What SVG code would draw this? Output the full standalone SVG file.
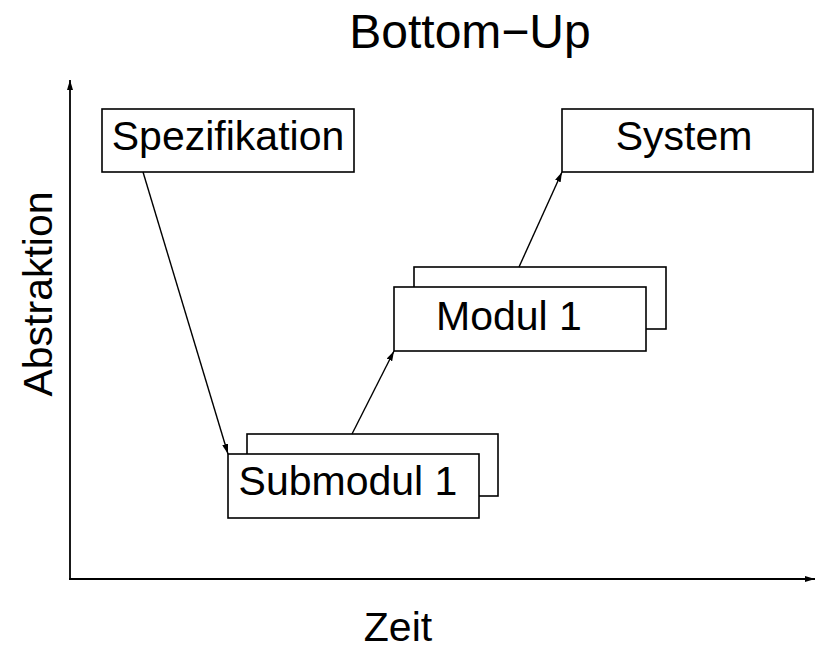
<svg xmlns="http://www.w3.org/2000/svg" width="817" height="649" viewBox="0 0 817 649">
  <style>
    .box { fill: #ffffff; stroke: #000000; stroke-width: 1.6; }
    .line { fill: none; stroke: #000000; stroke-width: 1.4; }
    .axis { fill: none; stroke: #000000; stroke-width: 1.8; }
    .lbl { font-family: "Liberation Sans", Arial, sans-serif; font-size: 41px; fill: #000000; }
    .title { font-family: "Liberation Sans", Arial, sans-serif; font-size: 48px; fill: #000000; }
  </style>
  <defs>
    <marker id="arrow" viewBox="0 0 10 6" refX="10" refY="3" markerWidth="10" markerHeight="6" markerUnits="userSpaceOnUse" orient="auto">
      <path d="M0,0 L10,3 L0,6 Z" fill="#000000"/>
    </marker>
  </defs>
  <rect width="817" height="649" fill="#ffffff"/>

  <text class="title" x="470" y="48" text-anchor="middle">Bottom−Up</text>

  <g id="axes">
    <line class="axis" x1="70" y1="580" x2="70" y2="80" marker-end="url(#arrow)"/>
    <line class="axis" x1="69" y1="579" x2="815" y2="579" marker-end="url(#arrow)"/>
    <text class="lbl" transform="translate(52,294) rotate(-90)" text-anchor="middle">Abstraktion</text>
    <text class="lbl" x="398" y="641" text-anchor="middle">Zeit</text>
  </g>

  <g id="spezifikation">
    <rect class="box" x="102" y="109" width="252" height="63"/>
    <text class="lbl" x="228" y="150" text-anchor="middle">Spezifikation</text>
  </g>

  <g id="submodul">
    <rect class="box" x="247" y="434" width="251" height="62"/>
    <rect class="box" x="228" y="454" width="251" height="64"/>
    <text class="lbl" x="348" y="495" text-anchor="middle">Submodul 1</text>
  </g>

  <g id="modul">
    <rect class="box" x="414" y="267" width="252" height="62"/>
    <rect class="box" x="394" y="287" width="252" height="64"/>
    <text class="lbl" x="509" y="330" text-anchor="middle">Modul 1</text>
  </g>

  <g id="system">
    <rect class="box" x="562" y="109" width="251" height="63"/>
    <text class="lbl" x="684" y="150" text-anchor="middle">System</text>
  </g>

  <g id="connectors">
    <line class="line" x1="143" y1="172" x2="228" y2="454" marker-end="url(#arrow)"/>
    <line class="line" x1="352" y1="434" x2="394" y2="351" marker-end="url(#arrow)"/>
    <line class="line" x1="519" y1="267" x2="562" y2="172" marker-end="url(#arrow)"/>
  </g>
</svg>
